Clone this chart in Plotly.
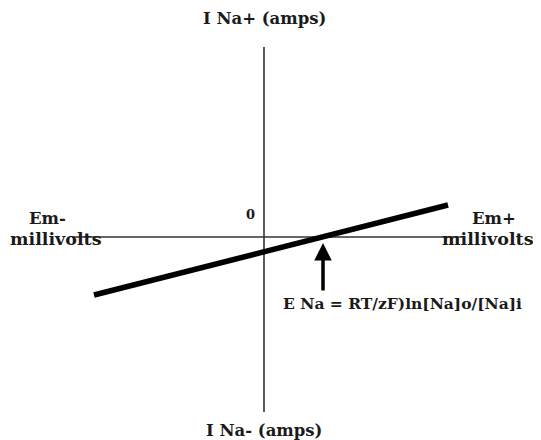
import plotly.graph_objects as go

# Data (Em in mV, I Na in arbitrary current units)
em_mv = [-85, 92]
i_na = [-5.8, 3.2]
e_na = 29.5
em_axis = [-96, 100]
i_axis = [-17.5, 19]

label_font = dict(family="DejaVu Serif", size=16.5, color="#1a1a1a", weight="bold")

fig = go.Figure()

# Axes drawn as lines through the origin
fig.add_trace(go.Scatter(x=em_axis, y=[0, 0], mode="lines",
                         line=dict(color="#333333", width=1.6), hoverinfo="skip"))
fig.add_trace(go.Scatter(x=[0, 0], y=i_axis, mode="lines",
                         line=dict(color="#333333", width=1.6), hoverinfo="skip"))

# I-V relation for sodium
fig.add_trace(go.Scatter(x=em_mv, y=i_na, mode="lines",
                         line=dict(color="black", width=5.5)))

annotations = [
    dict(x=0, y=21.9, text="I Na+ (amps)"),
    dict(x=0, y=-19.3, text="I Na- (amps)"),
    dict(x=-108.5, y=1.9, text="Em-"),
    dict(x=-104, y=-0.2, text="millivolts", font=dict(size=17.5)),
    dict(x=115, y=1.9, text="Em+"),
    dict(x=112, y=-0.2, text="millivolts", font=dict(size=17.5)),
    dict(x=-7, y=2.3, text="0", font=dict(size=13)),
    dict(x=8.5, y=-6.6, text="E Na = RT/zF)ln[Na]o/[Na]i", xanchor="left",
         font=dict(size=15.5)),
]
for a in annotations:
    f = dict(label_font)
    f.update(a.get("font", {}))
    a.update(xref="x", yref="y", showarrow=False, font=f)

# Arrow pointing at the reversal potential
annotations.append(dict(x=e_na, y=-0.6, ax=e_na, ay=-5.5, xref="x", yref="y",
                        axref="x", ayref="y", showarrow=True, arrowhead=2,
                        arrowsize=1, arrowwidth=3.5, arrowcolor="black", text=""))

# page has an 8px body margin, so the figure is sized to the visible area
fig.update_layout(
    width=533, height=432,
    margin=dict(l=0, r=0, t=0, b=0),
    plot_bgcolor="white", paper_bgcolor="white",
    showlegend=False,
    xaxis=dict(range=[-128, 138.5], visible=False),
    yaxis=dict(range=[-20.3, 22.9], visible=False),
    annotations=annotations,
)

fig.write_html("out.html")
